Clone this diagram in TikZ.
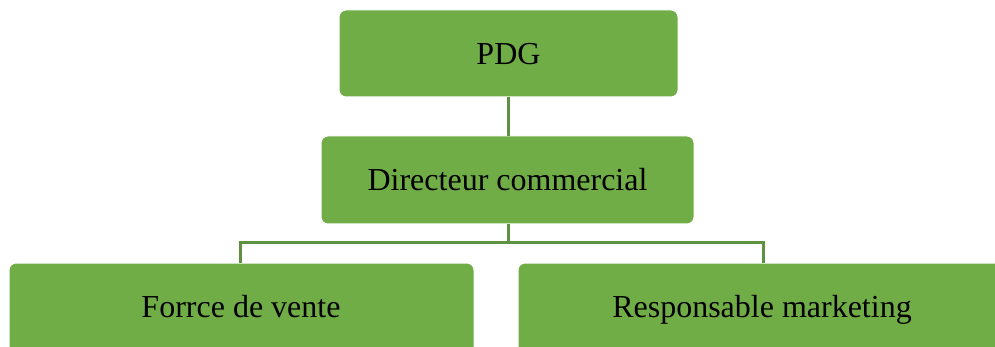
\documentclass[tikz,border=0pt]{standalone}
\usepackage{fontspec}
\setmainfont{Liberation Serif}
\definecolor{boxgreen}{HTML}{70AD47}
\definecolor{linkgreen}{HTML}{5E9240}
\begin{document}
\begin{tikzpicture}[x=1pt,y=-1pt,
  orgbox/.style={fill=boxgreen, draw=white, line width=1pt, rounded corners=7pt},
  label/.style={font=\fontsize{32}{36}\selectfont, text=black, inner sep=0pt, anchor=base},
  link/.style={draw=linkgreen, line width=3pt}]
  \useasboundingbox (0,0) rectangle (995,347);
  % boxes (corners in picture units)
  \path[orgbox] (339,10) rectangle (678,97);
  \node[label] (pdg) at (508.5,65) {PDG};
  \coordinate (pdgS) at (508.5,97);
  \path[orgbox] (321,136) rectangle (694,224);
  \node[label] (dir) at (507.5,191) {Directeur commercial};
  \coordinate (dirN) at (508.5,136);
  \coordinate (dirS) at (508.5,224);
  \path[orgbox] (9,263) rectangle (474,360);
  \node[label] (fv) at (241,317) {Forrce de vente};
  \coordinate (fvN) at (240.5,263);
  \path[orgbox] (518,263) rectangle (1010,360);
  \node[label] (rm) at (762,317) {Responsable marketing};
  \coordinate (rmN) at (763,263);
  % connectors
  \coordinate (bar) at (508.5,243);
  \draw[link] (pdgS) -- (dirN);
  \draw[link] (dirS) -- (bar);
  \draw[link] (fvN) |- (bar) -| (rmN);
\end{tikzpicture}
\end{document}
